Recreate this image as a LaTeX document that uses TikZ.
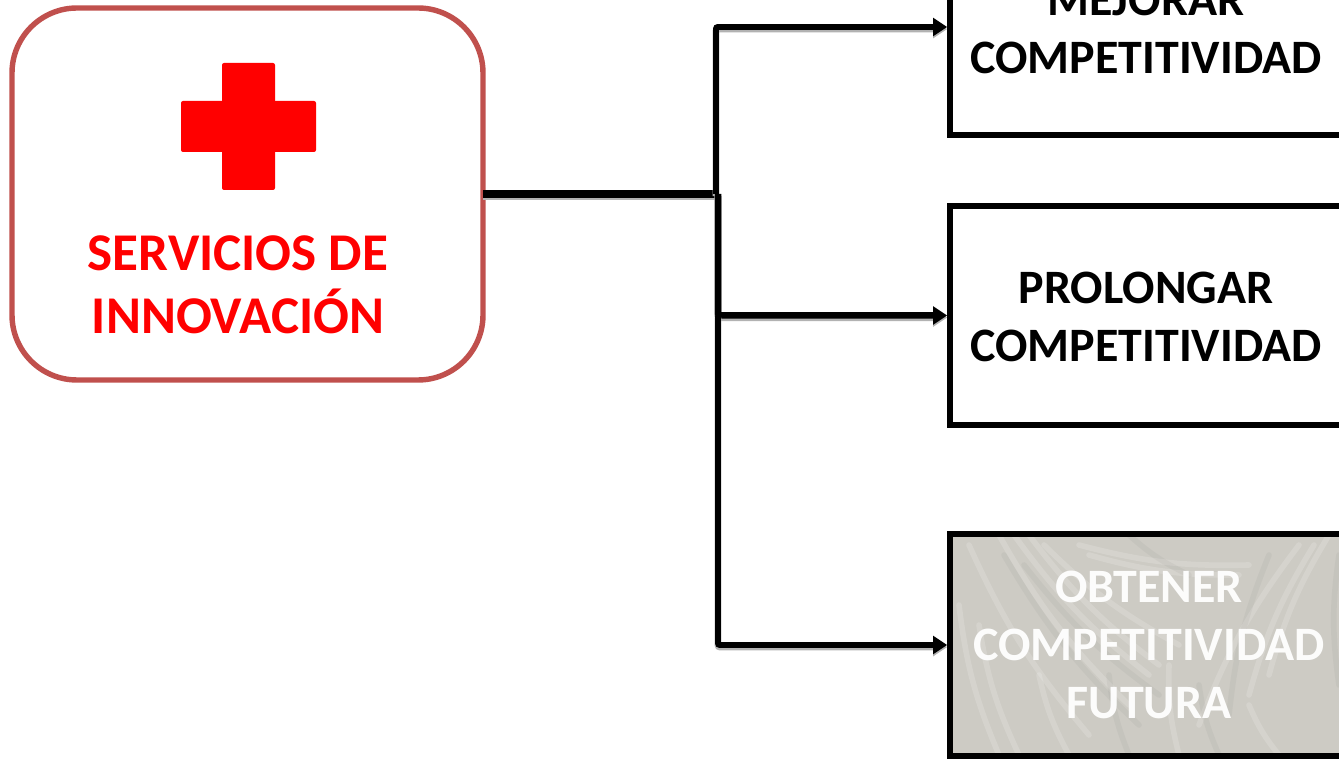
\documentclass[tikz,border=0pt]{standalone}
\usepackage{fontspec}
\setmainfont{Carlito}
\usetikzlibrary{arrows.meta}

\definecolor{servborder}{HTML}{C0504D}
\definecolor{texgrey}{HTML}{CDCBC4}

\tikzset{
  servbox/.style={draw=servborder, line width=1.55pt, rounded corners=0.65cm, minimum width=4.71cm, minimum height=3.72cm, outer sep=0pt},
  compbox/.style={draw=black, line width=1.5pt, minimum width=3.92cm, outer sep=0pt, align=center, font=\fontsize{13.65}{16.5}\selectfont\bfseries},
  lowtext/.style={text height=26.3pt},
  link/.style={line width=#1, preaction={draw=black!30, line width=#1+0.2pt, transform canvas={yshift=-0.6pt}}},
  arrowlink/.style={link=#1, -{Triangle[length=4pt, width=5pt]}, shorten >=0.8pt, rounded corners=0.02cm},
  streak/.style={line cap=round, line width=1.6pt, draw=white, opacity=0.16},
  darkstreak/.style={line cap=round, line width=1.6pt, draw=black!55, opacity=0.08}
}

\begin{document}
\begin{tikzpicture}
  \useasboundingbox (0, 0) rectangle (13.39, 7.59);
  \clip (0, 0) rectangle (13.39, 7.59);

  % left box with cross
  \node [servbox] (servicios) at (2.475, 5.65) {};
  \fill [red, rounded corners=0.02cm] (2.22, 6.96) rectangle (2.75, 5.69);
  \fill [red, rounded corners=0.02cm] (1.81, 6.58) rectangle (3.16, 6.07);
  \node [text=red, align=center, font=\fontsize{15.1}{17.9}\selectfont\bfseries] (serviciostext) at (2.38, 4.74) {SERVICIOS DE\\INNOVACIÓN};

  % right boxes
  \node [compbox, lowtext, minimum height=2.16cm] (mejorar) at (11.46, 7.32) {MEJORAR\\COMPETITIVIDAD};
  \node [compbox, lowtext, minimum height=2.19cm] (prolongar) at (11.46, 4.435) {PROLONGAR\\COMPETITIVIDAD};
  \node [compbox, minimum height=2.22cm, minimum width=3.98cm, fill=texgrey, text=white, text opacity=0.95,
    path picture={
      \foreach \a/\b/\c/\d in {-1.8/1.0/-0.6/-0.9, -1.5/1.1/-0.2/-0.6, -1.35/1.1/0.0/-0.3, -1.2/1.1/0.1/-0.2, -1.05/1.0/0.3/0.0, -0.7/1.0/1.0/0.8, -0.6/0.9/0.9/0.7, -1.9/0.4/-1.5/-1.1, -1.7/0.2/-1.3/-1.1, 1.8/1.1/1.2/-0.3, 1.65/1.0/1.0/-0.5, 1.5/1.0/0.5/-0.8, 0.2/-0.2/0.3/-1.1, -1.1/-0.3/-0.8/-1.1, 1.0/-0.6/1.3/-1.1}{
        \draw [streak] ([shift={(\a, \b)}]path picture bounding box.center) to[bend right=8] ([shift={(\c, \d)}]path picture bounding box.center);
      }
      \foreach \a/\b/\c/\d in {-1.45/0.9/-0.1/-0.8, -1.25/0.8/0.1/-0.5, -0.2/1.1/0.4/0.7, 1.2/0.9/0.8/-0.7, -0.4/-0.3/-0.2/-1.1, 1.9/0.9/1.9/-0.4, 0.5/-0.4/0.7/-1.1}{
        \draw [darkstreak] ([shift={(\a, \b)}]path picture bounding box.center) to[bend right=8] ([shift={(\c, \d)}]path picture bounding box.center);
      }
    }] (obtener) at (11.49, 1.14) {OBTENER\\COMPETITIVIDAD\\FUTURA};

  % connectors
  \coordinate (trunktop) at (7.16, 5.65);
  \coordinate (trunkmid) at (7.18, 5.65);
  \coordinate (trunkbranch) at (7.18, 4.435);
  \draw [link=2pt] (servicios.east) -- (trunkmid);
  \draw [arrowlink=1.7pt] (trunktop) |- (mejorar.west);
  \draw [arrowlink=1.85pt] (trunkmid) |- (prolongar.west);
  \draw [arrowlink=1.7pt] (trunkbranch) |- (obtener.west);
\end{tikzpicture}
\end{document}
